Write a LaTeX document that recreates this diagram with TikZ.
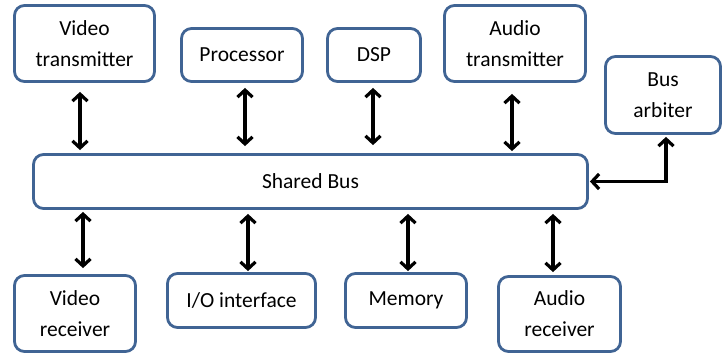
\documentclass[tikz,border=0pt]{standalone}
\usepackage{fontspec}
\setmainfont{Carlito}
\usetikzlibrary{arrows.meta}
\definecolor{boxblue}{RGB}{64,100,148}
\tikzset{
  blk/.style={draw=boxblue, line width=2.8pt, rounded corners=10pt, fill=white,
    inner sep=0pt, align=center, font=\fontsize{21.5}{31}\selectfont},
  arr/.style={line width=3.2pt, black, {Straight Barb[length=7pt,width=15pt]}-{Straight Barb[length=7pt,width=15pt]}}
}
\begin{document}
\begin{tikzpicture}[x=1pt,y=-1pt]
\useasboundingbox (0,0) rectangle (722,356);
% top row
\node[blk, minimum width=140pt, minimum height=76pt] (vt) at (84.5,43.5) {Video\\transmitter};
\node[blk, minimum width=121pt, minimum height=53pt] (proc) at (242,55) {Processor};
\node[blk, minimum width=93pt, minimum height=53pt] (dsp) at (374,55) {DSP};
\node[blk, minimum width=141pt, minimum height=76pt] (at) at (515,43.5) {Audio\\transmitter};
\node[blk, minimum width=115pt, minimum height=77pt] (arb) at (663,95) {Bus\\arbiter};
% bus
\node[blk, minimum width=554pt, minimum height=54pt] (bus) at (310.5,181.5) {Shared Bus};
% bottom row
\node[blk, minimum width=121pt, minimum height=76pt] (vr) at (75,313.5) {Video\\receiver};
\node[blk, minimum width=148pt, minimum height=54pt] (io) at (241.5,300.5) {I/O interface};
\node[blk, minimum width=121pt, minimum height=54pt] (mem) at (406,300.5) {Memory};
\node[blk, minimum width=122pt, minimum height=75pt] (ar) at (559.5,314) {Audio\\receiver};
% connectors top
\draw[arr, shorten <=9pt, shorten >=3pt] ([xshift=-4.5pt]vt.south) -- ([xshift=-4.5pt]vt.south |- bus.north);
\draw[arr, shorten <=5pt, shorten >=7pt] ([xshift=3pt]proc.south) -- ([xshift=3pt]proc.south |- bus.north);
\draw[arr, shorten <=5pt, shorten >=8pt] ([xshift=-1pt]dsp.south) -- ([xshift=-1pt]dsp.south |- bus.north);
\draw[arr, shorten <=11pt, shorten >=2pt] ([xshift=-3pt]at.south) -- ([xshift=-3pt]at.south |- bus.north);
% connectors bottom
\draw[arr, shorten <=2pt, shorten >=6pt] ([xshift=8pt]vr.north |- bus.south) -- ([xshift=8pt]vr.north);
\draw[arr, shorten <=4pt, shorten >=1pt] ([xshift=6.5pt]io.north |- bus.south) -- ([xshift=6.5pt]io.north);
\draw[arr, shorten <=4pt, shorten >=1pt] ([xshift=2pt]mem.north |- bus.south) -- ([xshift=2pt]mem.north);
\draw[arr, shorten <=4pt, shorten >=3pt] ([xshift=-6.5pt]ar.north |- bus.south) -- ([xshift=-6.5pt]ar.north);
% bus arbiter
\draw[arr, shorten <=2pt, shorten >=1pt] ([xshift=3pt]arb.south) |- (bus.east);
\end{tikzpicture}
\end{document}
